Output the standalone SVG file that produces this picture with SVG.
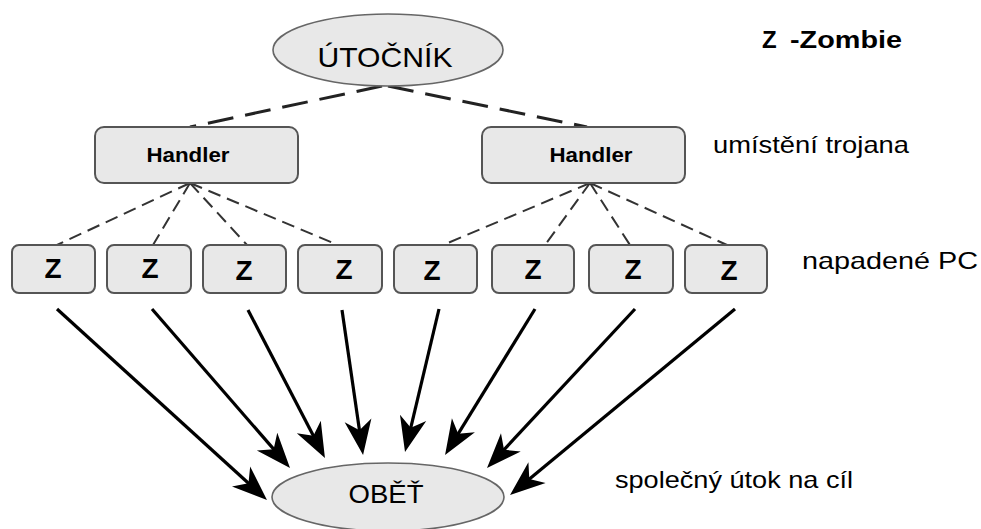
<svg xmlns="http://www.w3.org/2000/svg" width="981" height="529" viewBox="0 0 981 529">
<style>
.node{fill:#e8e8e8;stroke:#555;stroke-width:2}
.ell{fill:#e8e8e8;stroke:#666;stroke-width:1.6}
.t{font-family:"Liberation Sans",Arial,sans-serif;fill:#000}
.zt{font-family:"Liberation Sans",Arial,sans-serif;font-weight:bold;font-size:28px;text-anchor:middle;fill:#000}
.ht{font-family:"Liberation Sans",Arial,sans-serif;font-weight:bold;font-size:20px;text-anchor:middle;fill:#000}
.d1{fill:none;stroke:#222;stroke-width:3;stroke-dasharray:26 12}
.d2{fill:none;stroke:#333;stroke-width:2;stroke-dasharray:13 7}
.ar{fill:none;stroke:#000;stroke-width:3.2;marker-end:url(#ah)}
</style>
<defs>
<marker id="ah" markerUnits="userSpaceOnUse" viewBox="-36 -15 38 30" markerWidth="38" markerHeight="30" refX="-22" refY="0" orient="auto">
<path d="M0,0 L-35,-13.5 L-25,0 L-35,13.5 Z" fill="#000"/>
</marker>
</defs>
<rect width="981" height="529" fill="#fff"/>
<g id="connectors">
<path class="d1" d="M382,86 L190,127"/>
<path class="d1" d="M388,86 L587,127"/>
<path class="d2" d="M190,183 L57,245"/>
<path class="d2" d="M190,183 L153,245"/>
<path class="d2" d="M190,183 L247,245"/>
<path class="d2" d="M190,183 L338,245"/>
<path class="d2" d="M590,183 L443,245"/>
<path class="d2" d="M590,183 L545,245"/>
<path class="d2" d="M590,183 L630,245"/>
<path class="d2" d="M590,183 L727,245"/>
<path class="ar" d="M57,309 L250.7,485.2"/>
<path class="ar" d="M152,309 L275.6,451.4"/>
<path class="ar" d="M248,310 L314.8,438.5"/>
<path class="ar" d="M342,310 L359.9,433.2"/>
<path class="ar" d="M439,309 L410.1,430.6"/>
<path class="ar" d="M535,309 L456.6,436.3"/>
<path class="ar" d="M635,309 L502,451.9"/>
<path class="ar" d="M735,309 L527,481"/>
</g>
<g id="utocnik">
<ellipse class="ell" cx="388" cy="50" rx="115" ry="36"/>
<text class="t" x="385" y="67" font-size="28" text-anchor="middle" textLength="135" lengthAdjust="spacingAndGlyphs">ÚTOČNÍK</text>
</g>
<g id="handler1">
<rect class="node" x="95" y="127" width="203" height="56" rx="9"/>
<text class="ht" x="188" y="162" textLength="83" lengthAdjust="spacingAndGlyphs">Handler</text>
</g>
<g id="handler2">
<rect class="node" x="482" y="127" width="203" height="56" rx="9"/>
<text class="ht" x="591" y="162" textLength="83" lengthAdjust="spacingAndGlyphs">Handler</text>
</g>
<g id="z1"><rect class="node" x="12" y="245" width="83" height="48" rx="7"/><text class="zt" x="53" y="278">Z</text></g>
<g id="z2"><rect class="node" x="107" y="245" width="84" height="48" rx="7"/><text class="zt" x="150" y="278">Z</text></g>
<g id="z3"><rect class="node" x="203" y="245" width="83" height="48" rx="7"/><text class="zt" x="244" y="280">Z</text></g>
<g id="z4"><rect class="node" x="298" y="245" width="84" height="48" rx="7"/><text class="zt" x="344" y="279">Z</text></g>
<g id="z5"><rect class="node" x="394" y="245" width="83" height="48" rx="7"/><text class="zt" x="432" y="280">Z</text></g>
<g id="z6"><rect class="node" x="492" y="245" width="82" height="48" rx="7"/><text class="zt" x="533" y="279">Z</text></g>
<g id="z7"><rect class="node" x="589" y="245" width="84" height="48" rx="7"/><text class="zt" x="633" y="279">Z</text></g>
<g id="z8"><rect class="node" x="685" y="245" width="82" height="48" rx="7"/><text class="zt" x="729" y="280">Z</text></g>
<g id="obet">
<ellipse class="ell" cx="388" cy="497" rx="116" ry="34"/>
<text class="t" x="386" y="503" font-size="25" text-anchor="middle" textLength="75" lengthAdjust="spacingAndGlyphs">OBĚŤ</text>
</g>
<g id="labels">
<text class="t" x="762" y="48" font-size="24" font-weight="bold">Z<tspan x="790" textLength="112" lengthAdjust="spacingAndGlyphs">-Zombie</tspan></text>
<text class="t" x="713" y="153" font-size="24" textLength="196" lengthAdjust="spacingAndGlyphs">umístění trojana</text>
<text class="t" x="802" y="269" font-size="24" textLength="176" lengthAdjust="spacingAndGlyphs">napadené PC</text>
<text class="t" x="615" y="488" font-size="24" textLength="238" lengthAdjust="spacingAndGlyphs">společný útok na cíl</text>
</g>
</svg>
